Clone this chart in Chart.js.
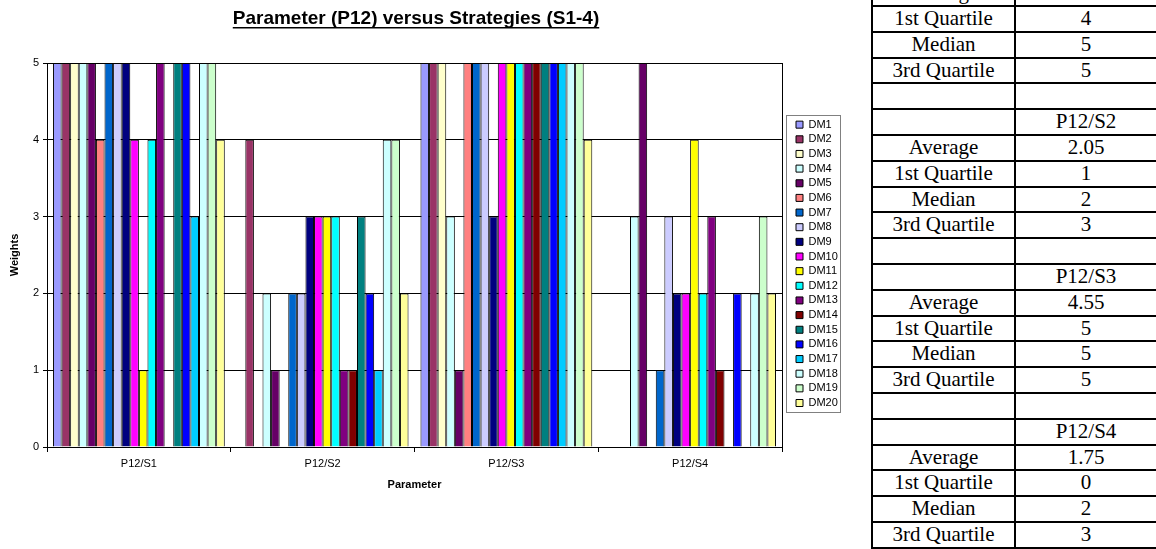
<!DOCTYPE html>
<html>
<head>
<meta charset="utf-8">
<script src="https://cdn.jsdelivr.net/npm/chart.js@4"></script>
<style>
html,body{margin:0;padding:0;background:#fff;width:1156px;height:549px;overflow:hidden;}
#wrap{position:absolute;left:0;top:0;width:850px;height:500px;}
#tbl{position:absolute;left:871px;top:0;font-family:"Liberation Serif","Times New Roman",serif;font-size:21px;color:#000;}
.row{position:absolute;left:0;width:300px;height:25.8px;box-sizing:border-box;border-top:2px solid #000;}
.row.last{height:27.8px;border-bottom:2px solid #000;}
.cell{position:absolute;top:0;height:23.8px;line-height:23.8px;text-align:center;border-left:2px solid #000;white-space:nowrap;}
.c1{left:0;width:141px;}
.c2{left:143px;width:140px;}
</style>
</head>
<body>
<div id="wrap"><canvas id="c" width="850" height="500"></canvas></div>
<div id="tbl"></div>
<script>
// ---- data ----
const categories = ['P12/S1', 'P12/S2', 'P12/S3', 'P12/S4'];
const dmNames = ['DM1','DM2','DM3','DM4','DM5','DM6','DM7','DM8','DM9','DM10',
                 'DM11','DM12','DM13','DM14','DM15','DM16','DM17','DM18','DM19','DM20'];
const weightsS1 = [5,5,5,5,5,4,5,5,5,4,1,4,5,0,5,5,3,5,5,4];
const weightsS2 = [0,4,0,2,1,0,2,2,3,3,3,3,1,1,3,2,1,4,4,2];
const weightsS3 = [5,5,5,3,1,5,5,5,3,5,5,5,5,5,5,5,5,5,5,4];
const weightsS4 = [0,0,0,3,5,0,1,3,2,2,4,2,3,1,0,2,0,2,3,2];
const dmColors = ['#9999FF','#993366','#FFFFCC','#CCFFFF','#660066','#FF8080','#0066CC','#CCCCFF','#000080','#FF00FF',
                  '#FFFF00','#00FFFF','#800080','#800000','#008080','#0000FF','#00CCFF','#CCFFFF','#CCFFCC','#FFFF99'];
const yTicks = [0, 1, 2, 3, 4, 5];
const chartTitle = 'Parameter (P12) versus Strategies (S1-4)';
const xTitle = 'Parameter';
const yTitle = 'Weights';

// statistics table
const statLabels = ['Average', '1st Quartile', 'Median', '3rd Quartile'];
const statAverage = ['4.25', '2.05', '4.55', '1.75'];
const statQ1 = ['4', '1', '5', '0'];
const statMedian = ['5', '2', '5', '2'];
const statQ3 = ['5', '3', '5', '3'];

// ---- table ----
(function buildTable() {
  const rows = [];
  categories.forEach((cat, i) => {
    rows.push(['', cat]);
    rows.push([statLabels[0], statAverage[i]]);
    rows.push([statLabels[1], statQ1[i]]);
    rows.push([statLabels[2], statMedian[i]]);
    rows.push([statLabels[3], statQ3[i]]);
    if (i < categories.length - 1) rows.push(['', '']);
  });
  const tbl = document.getElementById('tbl');
  const rowH = 25.8, firstTop = 5 - 2 * rowH;
  rows.forEach((r, i) => {
    const d = document.createElement('div');
    d.className = 'row' + (i === rows.length - 1 ? ' last' : '');
    d.style.top = (firstTop + i * rowH) + 'px';
    const a = document.createElement('div'); a.className = 'cell c1'; a.textContent = r[0];
    const b = document.createElement('div'); b.className = 'cell c2'; b.textContent = r[1];
    d.appendChild(a); d.appendChild(b);
    tbl.appendChild(d);
  });
})();

// ---- chart ----
const FONT = "'Liberation Sans', Arial, sans-serif";
Chart.defaults.font.family = FONT;
Chart.defaults.color = '#000';

const perCategory = [weightsS1, weightsS2, weightsS3, weightsS4];
const datasets = dmNames.map((name, i) => ({
  label: name,
  data: perCategory.map(arr => arr[i]),
  backgroundColor: dmColors[i],
  borderColor: '#000',
  borderWidth: 1,
  categoryPercentage: 0.935,
  barPercentage: 1.0
}));

const TITLE_FONT = {family: FONT, size: 19, weight: 'bold', lineHeight: 1.2};
const TITLE_PAD = {top: 7.1, bottom: 33.1};
const LEGEND_INSET = 10.35;
const LEGEND_TOP = 115.5;

const decor = {
  id: 'decor',
  afterLayout(chart) {
    const lg = chart.legend;
    const shift = chart.chartArea.right + LEGEND_INSET - lg.left;
    lg.left += shift; lg.right += shift;
    const h = lg.bottom - lg.top;
    lg.top = LEGEND_TOP; lg.bottom = LEGEND_TOP + h;
  },
  afterDraw(chart) {
    const ctx = chart.ctx;
    const a = chart.chartArea;
    ctx.save();
    // right border of plot area
    ctx.strokeStyle = '#000';
    ctx.lineWidth = 1;
    ctx.beginPath();
    const rx = Math.round(a.right) + 0.5;
    ctx.moveTo(rx, a.top);
    ctx.lineTo(rx, a.bottom);
    ctx.stroke();
    // legend frame
    const lg = chart.legend;
    const pad = lg.options.labels.padding;
    const itemH = Math.max(lg.options.labels.font.size, lg.options.labels.boxHeight) + pad;
    const fx = Math.round(lg.left - 6) + 0.5;
    const fy = Math.round(lg.top - 0.5) + 0.5;
    ctx.strokeStyle = '#808080';
    ctx.strokeRect(fx, fy, 54, Math.round(dmNames.length * itemH + pad));
    // title underline
    const t = chart.titleBlock;
    ctx.font = 'bold ' + TITLE_FONT.size + 'px ' + FONT;
    const w = ctx.measureText(chartTitle).width;
    const cx = (t.left + t.right) / 2;
    const cy = t.top + TITLE_PAD.top + TITLE_FONT.size * TITLE_FONT.lineHeight / 2;
    ctx.fillStyle = '#000';
    ctx.fillRect(cx - w / 2, Math.round(cy + 8), w, 1.5);
    ctx.restore();
  }
};

new Chart(document.getElementById('c'), {
  type: 'bar',
  data: {labels: categories, datasets},
  plugins: [decor],
  options: {
    responsive: false,
    devicePixelRatio: 1,
    animation: false,
    layout: {padding: {left: 0, right: 18, top: 0, bottom: 0}},
    plugins: {
      title: {display: true, text: chartTitle, font: TITLE_FONT, color: '#000', padding: TITLE_PAD},
      legend: {
        position: 'right', align: 'start', maxWidth: 50,
        labels: {boxWidth: 7, boxHeight: 7, padding: 3.65, color: '#000', font: {family: FONT, size: 11}}
      },
      tooltip: {enabled: false}
    },
    scales: {
      x: {
        grid: {display: true, drawOnChartArea: false, drawTicks: true, tickLength: 5, color: '#000', offset: true},
        border: {display: true, color: '#000', width: 1},
        ticks: {font: {family: FONT, size: 11}, color: '#000', padding: 5, maxRotation: 0},
        title: {display: true, text: xTitle, color: '#000', font: {family: FONT, size: 11, weight: 'bold'}, padding: {top: 0, bottom: 8.4}},
        afterFit(scale) { scale.height = 53; }
      },
      y: {
        min: yTicks[0], max: yTicks[yTicks.length - 1],
        afterBuildTicks(scale) { scale.ticks = yTicks.map(v => ({value: v})); },
        grid: {color: '#000', tickLength: 4, drawTicks: true},
        border: {display: true, color: '#000', width: 1},
        ticks: {font: {family: FONT, size: 11}, color: '#000', padding: 4},
        title: {display: true, text: yTitle, color: '#000', font: {family: FONT, size: 11, weight: 'bold'}, padding: {top: 8.4, bottom: 0}},
        afterFit(scale) { scale.width = 47; }
      }
    }
  }
});
</script>
</body>
</html>
